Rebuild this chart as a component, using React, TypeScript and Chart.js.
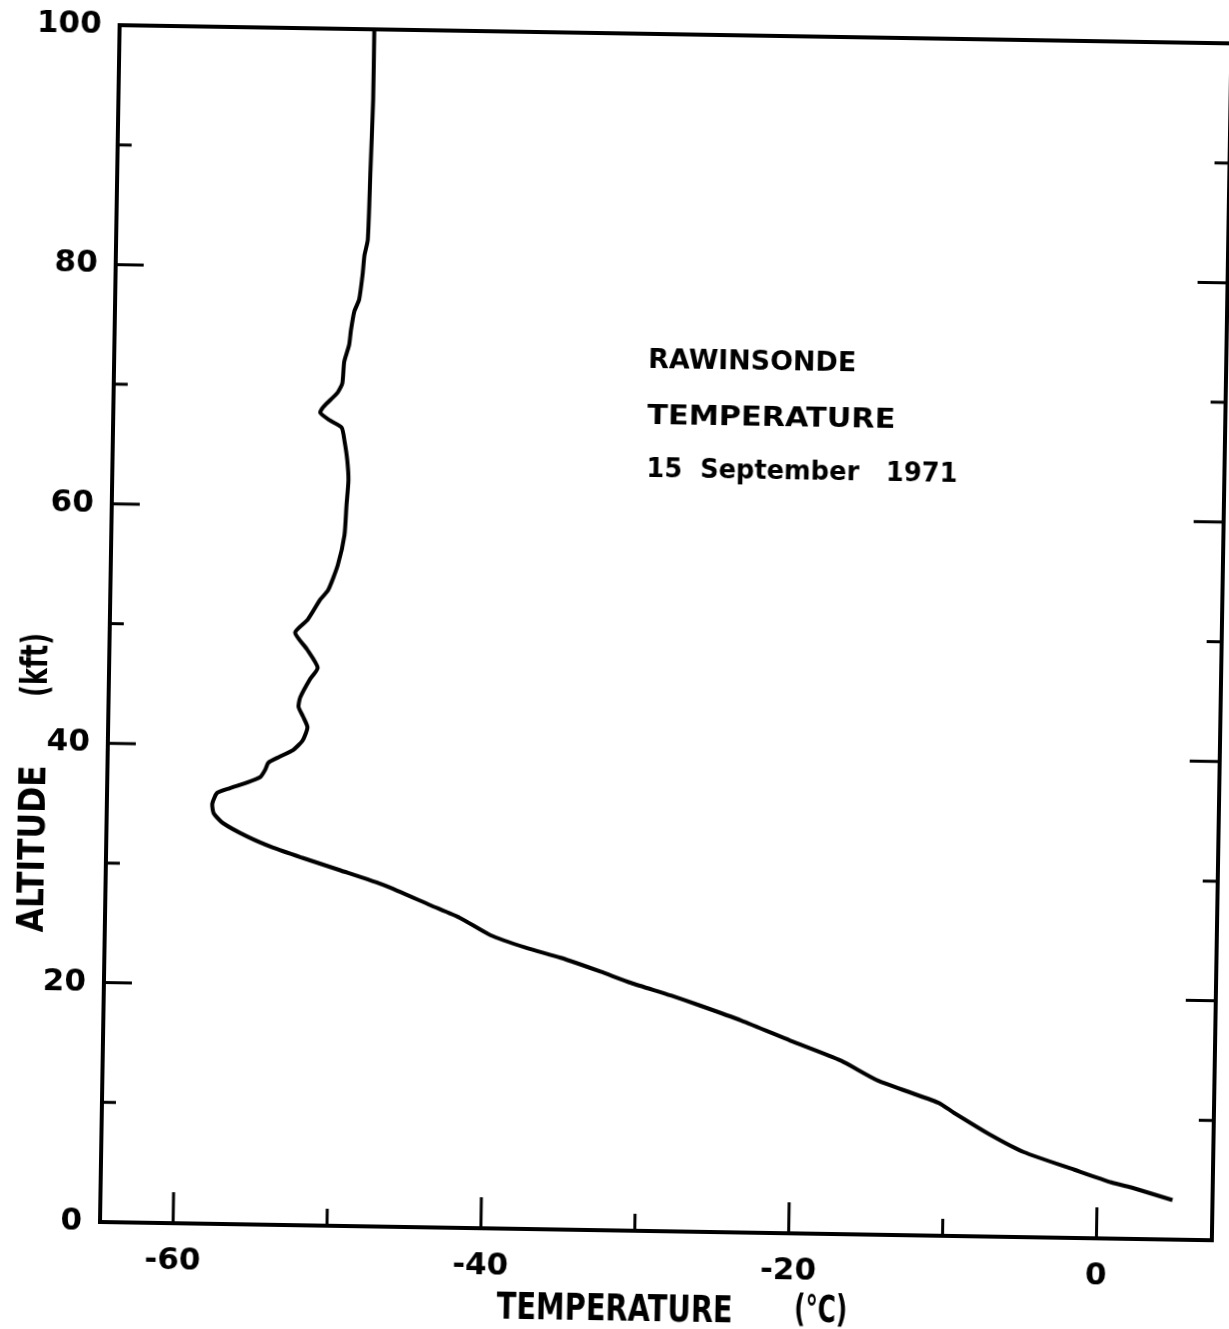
import React, { useEffect, useRef } from "react";
import { Chart, registerables } from "chart.js";

Chart.register(...registerables);

// Rawinsonde temperature sounding, listed from the surface upward.
const altitudeKft = [
  3.3, 4.3, 4.7, 5.7, 7.1, 8.5, 10.3, 11.1, 12.9, 14.5, 16.1, 17.7, 18.9, 19.7,
  20.7, 21.6, 22.7, 23.5, 24.5, 25.9, 26.9, 28.5, 29.7, 30.7, 31.5, 32.4, 33.5,
  34.3, 35.1, 36.0, 36.4, 36.9, 37.4, 38.0, 38.6, 39.1, 39.7, 40.5, 41.6, 42.5,
  43.3, 44.1, 45.6, 46.6, 48.1, 49.5, 50.6, 52.3, 53.1, 55.2, 57.7, 60.2, 62.3,
  64.0, 65.6, 66.7, 67.3, 67.9, 68.4, 69.6, 70.4, 72.2, 73.6, 74.8, 76.4, 77.4,
  79.5, 81.1, 82.4, 88.2, 94.1, 100,
];
const temperatureC = [
  4.9, 2.2, 0.9, -1.5, -4.8, -7.0, -9.4, -10.4, -14.4, -16.8, -20.1, -23.3, -26.0,
  -27.9, -30.5, -32.5, -35.1, -37.4, -39.7, -41.7, -43.6, -46.6, -49.5, -52.0,
  -53.9, -55.6, -57.2, -57.8, -57.9, -57.6, -56.8, -55.7, -54.8, -54.5, -54.3,
  -53.6, -52.7, -52.1, -51.8, -52.1, -52.4, -52.3, -51.7, -51.2, -51.9, -52.7,
  -51.9, -51.1, -50.6, -50.0, -49.6, -49.5, -49.4, -49.5, -49.7, -49.9, -50.7,
  -51.3, -51.1, -50.2, -49.9, -49.8, -49.5, -49.4, -49.2, -48.9, -48.7, -48.6,
  -48.4, -48.3, -48.2, -48.2,
];

// Axis ticks
const tempLabelTicks = [-60, -40, -20, 0];
const tempMarkTicks = [-60, -50, -40, -30, -20, -10, 0];
const altLabelTicks = [0, 20, 40, 60, 80, 100];
const altMarkTicks = [10, 20, 30, 40, 50, 60, 70, 80, 90];

// Text
const noteLines = ["RAWINSONDE", "TEMPERATURE", "15  September   1971"];
const xTitle = ["TEMPERATURE", "(°C)"];
const yTitle = ["ALTITUDE", "(kft)"];

const FONT = '"DejaVu Sans", "Liberation Sans", sans-serif';
const TEMP_MIN = -64.75;
const TEMP_MAX = 7.5;

// Note block anchor (data units), line centres and drawn widths
const NOTE_LEFT_T = -30.05;
const NOTE_ALTS = [72.9, 68.25, 63.75];
const NOTE_WIDTHS = [208, 248, 311];

function fittedText(
  ctx: CanvasRenderingContext2D,
  text: string,
  x: number,
  cy: number,
  width: number,
  size: number,
  angle: number,
  align: CanvasTextAlign = "center"
) {
  ctx.save();
  ctx.font = `bold ${size}px ${FONT}`;
  const w = ctx.measureText(text).width;
  ctx.translate(x, cy);
  ctx.rotate(angle);
  ctx.scale(width / w, 1);
  ctx.textAlign = align;
  ctx.textBaseline = "alphabetic";
  ctx.fillText(text, 0, size * 0.365);
  ctx.restore();
}

const framePlugin = {
  id: "soundingFrame",
  afterDatasetsDraw(chart: any) {
    const { ctx, chartArea: a, scales } = chart;
    const xs = scales.x;
    const ys = scales.y;
    ctx.save();
    ctx.strokeStyle = "#000";
    ctx.fillStyle = "#000";

    // plot frame
    ctx.lineWidth = 4;
    ctx.lineJoin = "miter";
    ctx.strokeRect(a.left, a.top, a.right - a.left, a.bottom - a.top);

    // inward tick marks
    ctx.lineWidth = 3;
    ctx.beginPath();
    for (const v of tempMarkTicks) {
      const px = xs.getPixelForValue(v);
      const len = v % 20 === 0 ? 31 : 17;
      ctx.moveTo(px, a.bottom);
      ctx.lineTo(px, a.bottom - len);
    }
    for (const v of altMarkTicks) {
      const py = ys.getPixelForValue(v);
      const major = v % 20 === 0;
      ctx.moveTo(a.left, py);
      ctx.lineTo(a.left + (major ? 28 : 14), py);
      ctx.moveTo(a.right, py);
      ctx.lineTo(a.right - (major ? 30 : 15), py);
    }
    ctx.stroke();

    // note block
    const nx = xs.getPixelForValue(NOTE_LEFT_T);
    noteLines.forEach((line, i) => {
      const cy = ys.getPixelForValue(NOTE_ALTS[i]);
      fittedText(ctx, line, nx, cy, NOTE_WIDTHS[i], 26, 0, "left");
    });

    // axis titles
    const tY = a.bottom + 76;
    fittedText(ctx, xTitle[0], a.left + 398 + 118, tY, 236, 37, 0);
    fittedText(ctx, xTitle[1], a.left + 696 + 26, tY - 2, 53, 37, 0);
    const tX = a.left - 76;
    fittedText(ctx, yTitle[0], tX, 850, 167, 38, -Math.PI / 2);
    fittedText(ctx, yTitle[1], tX, 666, 64, 38, -Math.PI / 2);

    ctx.restore();
  },
};

export default function App() {
  const canvasRef = useRef<HTMLCanvasElement | null>(null);

  useEffect(() => {
    const canvas = canvasRef.current;
    if (!canvas) return;
    const points = temperatureC.map((t, i) => ({ x: t, y: altitudeKft[i] }));
    const tickFont = { family: FONT, size: 31, weight: "bold" as const };

    const chart = new Chart(canvas, {
      type: "scatter",
      data: {
        datasets: [
          {
            data: points,
            showLine: true,
            borderColor: "#000",
            borderWidth: 4,
            pointRadius: 0,
            pointHoverRadius: 0,
            tension: 0.2,
            fill: false,
          },
        ],
      },
      options: {
        responsive: false,
        animation: false,
        devicePixelRatio: 1,
        events: [],
        layout: { padding: { top: 25, right: 17, left: 0, bottom: 0 } },
        plugins: {
          legend: { display: false },
          tooltip: { enabled: false },
        },
        scales: {
          x: {
            type: "linear",
            min: TEMP_MIN,
            max: TEMP_MAX,
            grid: { display: false, drawTicks: false },
            border: { display: false },
            afterBuildTicks: (s: any) => {
              s.ticks = tempLabelTicks.map((v) => ({ value: v }));
            },
            afterFit: (s: any) => {
              s.height = 107;
              s.paddingLeft = 0;
              s.paddingRight = 0;
            },
            ticks: {
              padding: 19,
              color: "#000",
              font: tickFont,
              maxRotation: 0,
              autoSkip: false,
            },
          },
          y: {
            type: "linear",
            min: 0,
            max: 100,
            grid: { display: false, drawTicks: false },
            border: { display: false },
            afterBuildTicks: (s: any) => {
              s.ticks = altLabelTicks.map((v) => ({ value: v }));
            },
            afterFit: (s: any) => {
              s.width = 100;
              s.paddingTop = 0;
              s.paddingBottom = 0;
            },
            ticks: {
              padding: 18,
              color: "#000",
              font: tickFont,
              autoSkip: false,
            },
          },
        },
      },
      plugins: [framePlugin],
    });

    return () => chart.destroy();
  }, []);

  return (
    <div style={{ position: "fixed", left: 0, top: 0, width: 1229, height: 1329, background: "#fff", overflow: "hidden" }}>
      <canvas
        ref={canvasRef}
        width={1229}
        height={1329}
        style={{
          display: "block",
          width: 1229,
          height: 1329,
          transform: "rotate(0.94deg)",
          transformOrigin: "100px 1222px",
        }}
      />
    </div>
  );
}
